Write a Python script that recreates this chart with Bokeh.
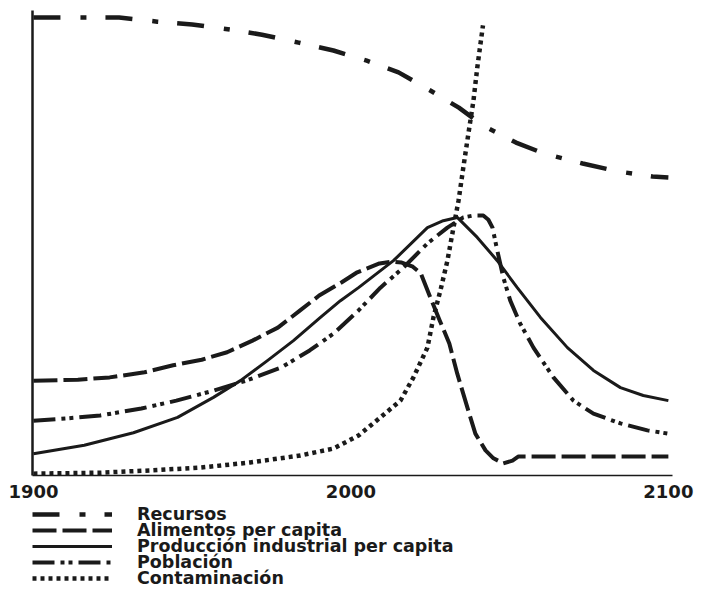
from bokeh.plotting import figure
from bokeh.layouts import column
from bokeh.models import Range1d, FixedTicker, Legend, LegendItem
from bokeh.embed import file_html
from bokeh.resources import INLINE

# ---- data (y in relative units 0-100) ----
tick_years = [1900, 2000, 2100]
tick_labels = ["1900", "2000", "2100"]

recursos_years = [1900, 1905, 1927, 1939, 1950, 1962, 1972, 1983.5, 1994.5, 2005,
                  2015, 2025, 2034, 2042, 2052, 2061, 2073, 2084, 2095, 2100]
recursos_vals = [98.5, 98.5, 98.5, 97.6, 97.0, 95.9, 94.8, 93.1, 91.4, 89.2,
                 86.7, 82.8, 79.1, 75.1, 71.6, 69.2, 67.1, 65.4, 64.3, 64.1]

alimentos_years = [1900, 1914, 1924, 1935, 1944, 1953, 1961, 1969, 1977, 1984,
                   1990, 1997, 2002, 2009, 2013, 2016, 2019.5, 2022, 2025, 2028,
                   2031, 2033.5, 2036.7, 2039.2, 2042.4, 2044.9, 2048, 2050.9,
                   2052.8, 2100]
alimentos_vals = [20.4, 20.6, 21.1, 22.2, 23.7, 24.9, 26.5, 29.0, 31.8, 35.5,
                  38.7, 41.5, 43.7, 45.6, 46.0, 45.8, 44.9, 43.5, 38.3, 33.3,
                  28.4, 21.9, 14.6, 9.0, 5.4, 3.7, 2.6, 3.2,
                  4.1, 4.1]

industria_years = [1900, 1916, 1931.5, 1945.4, 1956.7, 1965.2, 1973.7, 1981.9, 1990.4,
                   1996.7, 2002.4, 2013.4, 2024.1, 2029.1, 2033.5, 2039.8, 2046.1,
                   2052.4, 2059.7, 2068.2, 2076.4, 2084.9, 2092.1, 2100]
industria_vals = [4.7, 6.5, 9.2, 12.5, 16.8, 20.4, 24.7, 29.0, 34.0,
                  37.6, 40.4, 46.2, 53.3, 54.8, 55.5, 51.2, 46.2,
                  40.4, 34.0, 27.5, 22.6, 18.9, 17.2, 16.1]

poblacion_years = [1900, 1911, 1921, 1934, 1945, 1957, 1967, 1978, 1987, 1994.5,
                   2002.4, 2009.3, 2016.5, 2024.1, 2030.4, 2035.4, 2038.5, 2041.7,
                   2043.3, 2044.6, 2046.1, 2048, 2050.2, 2053.3, 2057.5, 2063.8,
                   2070.1, 2076.4, 2084.9, 2093.4, 2100]
poblacion_vals = [11.8, 12.3, 12.9, 14.4, 16.1, 18.3, 20.4, 23.2, 26.9, 30.5,
                  35.5, 40.4, 44.7, 49.9, 53.3, 55.5, 55.9, 55.9,
                  55.0, 53.3, 48.4, 42.6, 37.6, 32.7, 27.5, 21.1,
                  16.1, 13.3, 11.2, 9.7, 9.0]

contam_years = [1900, 1921, 1937, 1952.6, 1968.3, 1984.1, 1994.5, 2002.4, 2009.3,
                2015.6, 2019.7, 2024.1, 2026, 2028.2, 2030.4, 2032.3, 2033.9,
                2035.4, 2037, 2038.6, 2039.8, 2041.6]
contam_vals = [0.4, 0.6, 1.1, 1.7, 2.8, 4.3, 5.8, 8.6, 12.5,
               16.1, 21.1, 27.5, 34.0, 39.8, 46.2, 53.3, 59.1,
               66.2, 73.5, 80.6, 87.7, 96.8]

labels = ["Recursos", "Alimentos per capita", "Producción industrial per capita",
          "Población", "Contaminación"]

INK = "#1a1a1a"

styles = [
    dict(line_width=4.5, line_dash="27 20 6 19"),
    dict(line_width=4, line_dash="24 6"),
    dict(line_width=3, line_dash="solid"),
    dict(line_width=4, line_dash="22 6 4 4 4 6"),
    dict(line_width=4.5, line_dash="4 4"),
]
series = [(recursos_years, recursos_vals), (alimentos_years, alimentos_vals),
          (industria_years, industria_vals), (poblacion_years, poblacion_vals),
          (contam_years, contam_vals)]

# ---------------- main chart ----------------
p = figure(width=710, height=505,
           x_range=Range1d(1899.7, 2101.3), y_range=Range1d(0, 100),
           output_backend="svg", toolbar_location=None,
           min_border_left=32, min_border_right=38,
           min_border_top=10, min_border_bottom=30)
p.outline_line_color = None
p.grid.visible = False
p.background_fill_color = "white"
p.border_fill_color = "white"

for (xs, ys), st in zip(series, styles):
    p.line(xs, ys, line_color=INK, line_join="round", **st)

xa = p.xaxis[0]
xa.ticker = FixedTicker(ticks=tick_years)
xa.major_label_overrides = {t: l for t, l in zip(tick_years, tick_labels)}
xa.major_tick_line_color = None
xa.minor_tick_line_color = None
xa.major_tick_out = 0
xa.major_tick_in = 0
xa.major_label_standoff = 9
xa.axis_line_width = 1.5
xa.axis_line_color = INK
xa.major_label_text_font = "DejaVu Sans"
xa.major_label_text_font_style = "bold"
xa.major_label_text_font_size = "18px"
xa.major_label_text_color = INK

ya = p.yaxis[0]
ya.ticker = FixedTicker(ticks=[])
ya.major_tick_line_color = None
ya.minor_tick_line_color = None
ya.major_label_text_font_size = "0px"
ya.axis_line_width = 2.5
ya.axis_line_color = INK

# ---------------- legend strip ----------------
# same series drawn again, but kept out of view by the strip's y range,
# so that the legend samples use the very same line styles
leg_h = 87
p2 = figure(width=710, height=leg_h,
            x_range=Range1d(1899.7, 2101.3), y_range=Range1d(1000, 1001),
            x_axis_type=None, y_axis_type=None,
            output_backend="svg", toolbar_location=None,
            min_border_left=32, min_border_right=38, min_border_top=0,
            min_border_bottom=0)
p2.outline_line_color = None
p2.grid.visible = False
p2.background_fill_color = "white"
p2.border_fill_color = "white"

row_centers = [9, 25, 41, 57, 73]   # px from top of the strip
for lab, (xs, ys), st, c in zip(labels, series, styles, row_centers):
    rend = p2.line(xs, ys, line_color=INK, **st)
    lg = Legend(items=[LegendItem(label=lab, renderers=[rend])],
                location=(0, leg_h - (c + 10)), orientation="vertical",
                glyph_width=80, glyph_height=20, label_height=20,
                label_standoff=25, spacing=0, padding=0, margin=0,
                border_line_color=None, background_fill_alpha=0,
                label_text_font="DejaVu Sans", label_text_font_style="bold",
                label_text_font_size="17.5px", label_text_color=INK)
    p2.add_layout(lg, "center")

layout = column(p, p2, spacing=0)
open("out.html", "w").write(file_html(layout, INLINE))
